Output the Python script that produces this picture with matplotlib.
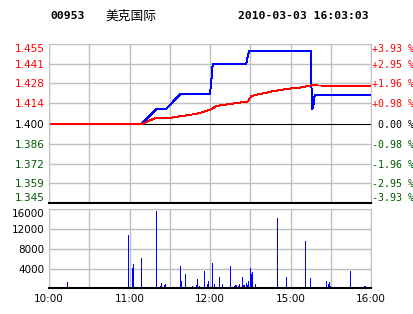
import matplotlib
matplotlib.use("Agg")
import matplotlib.pyplot as plt

# minutes from 10:00 (axis runs 10:00-12:30, 14:30-16:00 -> 240 min)
price_t = [0, 69, 80, 87, 98, 120, 121, 122, 147, 148, 149, 195, 195.5, 196, 196.5, 197, 198, 240]
price_v = [1.400, 1.400, 1.410, 1.410, 1.4205, 1.4205, 1.430, 1.441, 1.441, 1.446, 1.450,
           1.450, 1.430, 1.410, 1.4105, 1.412, 1.420, 1.420]

avg_t = [0, 70, 79, 90, 110, 120, 125, 148, 151, 166, 178, 188, 195, 240]
avg_v = [1.400, 1.400, 1.4038, 1.4040, 1.4068, 1.4095, 1.4123, 1.4153, 1.4192, 1.4222,
         1.4241, 1.4250, 1.4264, 1.4260]

vol_t = [14, 59, 62, 63, 69, 80, 83, 84, 86, 87, 98, 99, 102, 107, 110, 111, 112, 116, 117, 118,
         119, 120, 122, 123, 127, 129, 135, 138, 139, 140, 141, 142, 144, 145, 146, 147, 148,
         149, 150, 151, 152, 154, 170, 177, 191, 195, 196, 199, 207, 208, 209, 210, 225, 234,
         235, 236, 240]
vol_v = [1200, 10800, 4100, 4900, 6100, 15650, 500, 1050, 650, 850, 4500, 1500, 2900, 450, 650,
         1900, 500, 3500, 5700, 850, 1550, 650, 5100, 850, 2300, 850, 4500, 500, 600, 700, 500,
         850, 2300, 600, 700, 1050, 700, 1400, 4100, 2900, 3400, 850, 14250, 2300, 9600, 2100,
         5500, 850, 1500, 850, 1250, 500, 3500, 500, 500, 500, 500]

prev_close = 1.400
price_ticks = [1.345, 1.359, 1.372, 1.386, 1.400, 1.414, 1.428, 1.441, 1.455]
pct_labels = ["-3.93 %", "-2.95 %", "-1.96 %", "-0.98 %", " 0.00 %",
              "+0.98 %", "+1.96 %", "+2.95 %", "+3.93 %"]
vol_ticks = [4000, 8000, 12000, 16000]
time_labels = ["10:00", "", "11:00", "", "12:00", "", "15:00", "", "16:00"]

RED = "#ff0000"
GREEN = "#005a00"
GRID = "#c0c0c0"


def tick_colour(v):
    if abs(v - prev_close) < 1e-6:
        return "black"
    return RED if v > prev_close else GREEN


fig = plt.figure(figsize=(4.14, 3.14), dpi=100)
ax = fig.add_axes([0.1184, 0.3525, 0.7778, 0.5074])
axv = fig.add_axes([0.1184, 0.0818, 0.7778, 0.2516])

for a in (ax, axv):
    a.set_xlim(0, 240)
    a.set_xticks(range(0, 241, 30))
    a.grid(True, color=GRID, lw=1)
    a.set_axisbelow(True)
    for s in ("left", "top", "right"):
        a.spines[s].set_color(GRID)
    a.spines["bottom"].set_color("black")
    a.spines["bottom"].set_linewidth(1.5)
    a.tick_params(length=0)

# price panel
ax.set_ylim(1.345, 1.455)
ax.set_yticks(price_ticks)
ax.set_yticklabels(["%.3f" % v for v in price_ticks], fontsize=7.5, family="DejaVu Sans")
ax.tick_params(axis="y", pad=3.4)
ax.set_xticklabels([])
ax.axhline(prev_close, color="black", lw=0.7, antialiased=False)
ax.plot(price_t, price_v, color="#0000ff", lw=0.7, antialiased=False)
ax.plot(avg_t, avg_v, color=RED, lw=0.7, antialiased=False)

axr = ax.twinx()
axr.set_ylim(ax.get_ylim())
axr.set_yticks(price_ticks)
axr.set_yticklabels(pct_labels, fontsize=7.2, family="DejaVu Sans Mono")
axr.tick_params(length=0, pad=0.5)
for s in axr.spines.values():
    s.set_visible(False)

for a in (ax, axr):
    lbls = a.get_yticklabels()
    for lbl, v in zip(lbls, price_ticks):
        lbl.set_color(tick_colour(v))
    lbls[0].set_verticalalignment("bottom")
    lbls[-1].set_verticalalignment("top")

# volume panel
axv.bar(vol_t, vol_v, width=0.7, color="#0000ff", linewidth=0)
axv.set_ylim(0, 16000)
axv.set_yticks(vol_ticks)
axv.set_yticklabels([str(v) for v in vol_ticks], fontsize=7.5)
axv.get_yticklabels()[-1].set_verticalalignment("top")
axv.tick_params(axis="y", pad=3.4)
axv.set_xticklabels(time_labels, fontsize=7.5)
axv.tick_params(axis="x", pad=4)

# header
fig.text(0.121, 0.949, "00953", fontsize=8.2, family="DejaVu Sans Mono", weight="bold", va="center")
fig.text(0.2536, 0.949, "美克国际", fontsize=9.2, family=["Noto Sans CJK SC", "DejaVu Sans"], va="center")
fig.text(0.575, 0.949, "2010-03-03 16:03:03", fontsize=8.2, family="DejaVu Sans Mono",
         weight="bold", va="center")

fig.savefig("out.png", dpi=100)
